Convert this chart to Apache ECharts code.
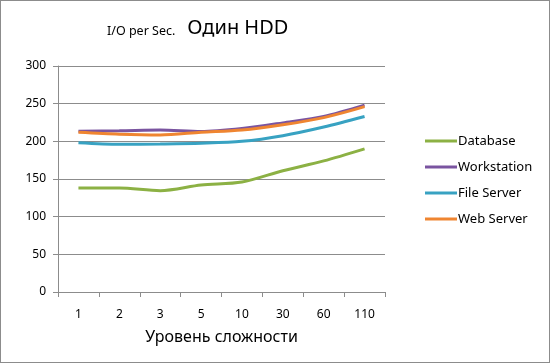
<!DOCTYPE html>
<html><head><meta charset="utf-8">
<script src="https://cdn.jsdelivr.net/npm/echarts@6/dist/echarts.min.js"></script>
<style>html,body{margin:0;padding:0;background:#fff}#c{width:548px;height:361px;border:1px solid #8c8c8c}</style>
</head><body><div id="c"></div>
<script>
const categories = ['1','2','3','5','10','30','60','110'];
const database    = [138, 138, 134.5, 142, 146, 161, 174, 190];
const workstation = [213.5, 214, 215, 213, 217, 224.5, 233, 248];
const fileServer  = [198, 196, 196.5, 197.5, 200, 207.5, 219, 233];
const webServer   = [212, 209.5, 208.5, 212, 215, 222, 231.5, 246];
const yTicks = {min: 0, max: 300, interval: 50};

const FONT = '"Noto Sans", "Open Sans", sans-serif';
const chart = echarts.init(document.getElementById('c'));
const mk = (name, data, color) => ({
  name, type: 'line', data, smooth: 0.3, symbol: 'none',
  lineStyle: {color, width: 3}, itemStyle: {color}
});
chart.setOption({
  animation: false,
  textStyle: {fontFamily: FONT},
  title: {
    text: '{s|I/O per Sec.}{g|}{b|Один HDD}',
    left: 101, top: 12,
    textStyle: {fontWeight: 'normal', rich: {
      s: {fontSize: 12.5, fontFamily: FONT, color: '#000', fontWeight: 'normal', verticalAlign: 'bottom'},
      g: {width: 12},
      b: {fontSize: 20, fontFamily: FONT, color: '#000', fontWeight: 'normal'}
    }}
  },
  grid: {left: 57, right: 164, top: 65, bottom: 70, containLabel: false},
  legend: {
    orient: 'vertical', left: 419, top: 126, itemGap: 8,
    icon: 'rect', itemWidth: 32, itemHeight: 3,
    textStyle: {fontSize: 13, fontFamily: FONT, color: '#000', padding: [0, 0, 0, -4], lineHeight: 18},
    data: ['Database', 'Workstation', 'File Server', 'Web Server']
  },
  xAxis: {
    type: 'category', data: categories, boundaryGap: true,
    name: 'Уровень сложности', nameLocation: 'middle', nameGap: 37,
    nameTextStyle: {fontSize: 16, fontFamily: FONT, color: '#000'},
    axisLine: {lineStyle: {color: '#8c8c8c'}},
    axisTick: {show: true, length: 5, lineStyle: {color: '#8c8c8c'}},
    axisLabel: {fontSize: 12, color: '#000', margin: 17, fontFamily: FONT}
  },
  yAxis: {
    type: 'value', min: yTicks.min, max: yTicks.max, interval: yTicks.interval,
    axisLine: {show: true, lineStyle: {color: '#8c8c8c'}},
    axisTick: {show: true, length: 5, lineStyle: {color: '#8c8c8c'}},
    axisLabel: {fontSize: 12, color: '#000', margin: 12, fontFamily: FONT},
    splitLine: {lineStyle: {color: '#8c8c8c'}}
  },
  series: [
    mk('Database', database, '#8CB144'),
    mk('Workstation', workstation, '#7A54A0'),
    mk('File Server', fileServer, '#38A2C2'),
    mk('Web Server', webServer, '#EF8531')
  ]
});
</script></body></html>
